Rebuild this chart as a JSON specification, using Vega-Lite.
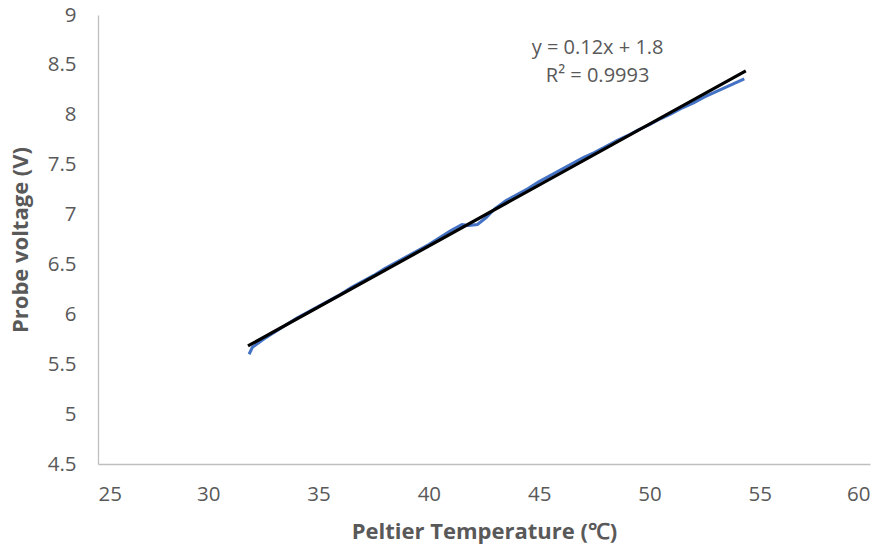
{
  "$schema": "https://vega.github.io/schema/vega-lite/v6.json",
  "width": 772,
  "height": 449,
  "autosize": {"type": "none"},
  "padding": {"left": 98, "top": 15, "right": 15, "bottom": 85},
  "background": "white",
  "config": {
    "view": {"stroke": null},
    "font": "Open Sans",
    "axis": {
      "grid": false,
      "ticks": false,
      "domainColor": "#bfbfbf",
      "domainWidth": 1.3,
      "labelColor": "#595959",
      "labelFont": "Open Sans",
      "labelFontSize": 20.5,
      "titleColor": "#595959",
      "titleFont": "Open Sans",
      "titleFontSize": 22,
      "titleFontWeight": "bold"
    }
  },
  "datasets": {
    "probe": [
      {"t": 31.85, "v": 5.6},
      {"t": 32.0, "v": 5.67},
      {"t": 32.5, "v": 5.75},
      {"t": 33.0, "v": 5.82},
      {"t": 33.5, "v": 5.89},
      {"t": 34.0, "v": 5.96},
      {"t": 34.5, "v": 6.02},
      {"t": 35.0, "v": 6.08},
      {"t": 35.5, "v": 6.14},
      {"t": 36.0, "v": 6.2},
      {"t": 36.5, "v": 6.27},
      {"t": 37.0, "v": 6.33},
      {"t": 37.5, "v": 6.39},
      {"t": 38.0, "v": 6.46},
      {"t": 38.5, "v": 6.52},
      {"t": 39.0, "v": 6.58},
      {"t": 39.5, "v": 6.64},
      {"t": 40.0, "v": 6.7},
      {"t": 40.5, "v": 6.77},
      {"t": 41.0, "v": 6.84},
      {"t": 41.5, "v": 6.9},
      {"t": 41.8, "v": 6.89},
      {"t": 42.2, "v": 6.9},
      {"t": 42.6, "v": 6.97},
      {"t": 43.0, "v": 7.06},
      {"t": 43.5, "v": 7.14},
      {"t": 44.0, "v": 7.2},
      {"t": 44.5, "v": 7.26},
      {"t": 45.0, "v": 7.33},
      {"t": 45.5, "v": 7.39},
      {"t": 46.0, "v": 7.45},
      {"t": 46.5, "v": 7.51},
      {"t": 47.0, "v": 7.57},
      {"t": 47.5, "v": 7.62},
      {"t": 48.0, "v": 7.68},
      {"t": 48.5, "v": 7.74},
      {"t": 49.0, "v": 7.79},
      {"t": 49.5, "v": 7.85},
      {"t": 50.0, "v": 7.9},
      {"t": 50.5, "v": 7.96},
      {"t": 51.0, "v": 8.01},
      {"t": 51.5, "v": 8.07},
      {"t": 52.0, "v": 8.12},
      {"t": 52.5, "v": 8.18},
      {"t": 53.0, "v": 8.23},
      {"t": 53.5, "v": 8.28},
      {"t": 54.0, "v": 8.33},
      {"t": 54.3, "v": 8.36}
    ],
    "trend": [
      {"t": 31.8, "v": 5.683},
      {"t": 54.37, "v": 8.44}
    ],
    "label": [
      {"t": 47.65, "v": 8.67, "text": "y = 0.12x + 1.8"},
      {"t": 47.65, "v": 8.39, "text": "R² = 0.9993"}
    ]
  },
  "layer": [
    {
      "data": {"name": "probe"},
      "mark": {"type": "line", "color": "#4472C4", "strokeWidth": 3},
      "encoding": {
        "x": {
          "field": "t", "type": "quantitative",
          "scale": {"domain": [25, 60], "nice": false, "zero": false},
          "axis": {"values": [25, 30, 35, 40, 45, 50, 55, 60], "title": "Peltier Temperature (℃)", "labelPadding": 20, "titlePadding": 17}
        },
        "y": {
          "field": "v", "type": "quantitative",
          "scale": {"domain": [4.5, 9], "nice": false, "zero": false},
          "axis": {"values": [4.5, 5, 5.5, 6, 6.5, 7, 7.5, 8, 8.5, 9], "title": "Probe voltage (V)", "labelPadding": 22, "titlePadding": 15, "format": ".1~f"}
        }
      }
    },
    {
      "data": {"name": "trend"},
      "mark": {"type": "line", "color": "black", "strokeWidth": 3.2},
      "encoding": {
        "x": {"field": "t", "type": "quantitative"},
        "y": {"field": "v", "type": "quantitative"}
      }
    },
    {
      "data": {"name": "label"},
      "mark": {"type": "text", "color": "#595959", "fontSize": 20, "font": "Open Sans", "align": "center", "baseline": "middle"},
      "encoding": {
        "x": {"field": "t", "type": "quantitative"},
        "y": {"field": "v", "type": "quantitative"},
        "text": {"field": "text"}
      }
    }
  ]
}
